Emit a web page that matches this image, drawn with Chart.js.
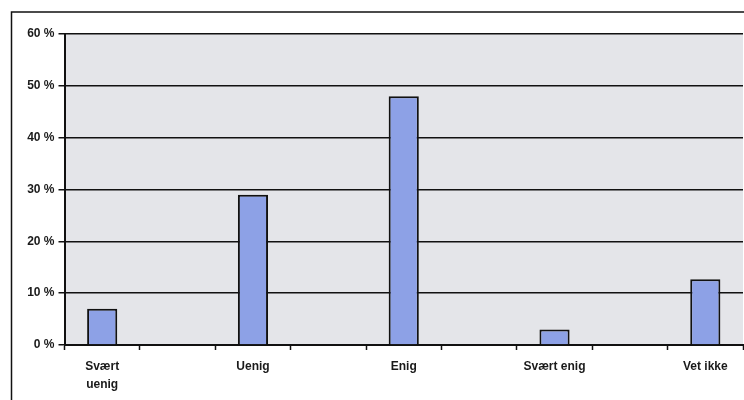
<!DOCTYPE html>
<html>
<head>
<meta charset="utf-8">
<script src="https://cdn.jsdelivr.net/npm/chart.js@4/dist/chart.umd.min.js"></script>
<style>
  html, body { margin: 0; padding: 0; background: #ffffff; }
  #wrap { position: relative; width: 744px; height: 400px; overflow: hidden; }
  canvas { display: block; }
</style>
</head>
<body>
<div id="wrap"><canvas id="c" width="744" height="400"></canvas></div>
<script>
// Categories (empty slots between labelled answers, as in the original)
const categories = [["Svært", "uenig"], "", "Uenig", "", "Enig", "", "Svært enig", "", "Vet ikke"];
// Share of answers, percent
const shares = [7, null, 29, null, 48, null, 3, null, 12.7];
// Y-axis ticks
const yTicks = [0, 10, 20, 30, 40, 50, 60];

const frame = {
  id: 'frame',
  beforeDraw(chart) {
    const ctx = chart.ctx, a = chart.chartArea;
    ctx.save();
    ctx.fillStyle = '#ffffff';
    ctx.fillRect(0, 0, chart.width, chart.height);
    ctx.fillStyle = '#e4e5e9';
    ctx.fillRect(a.left, a.top, a.right - a.left, a.bottom - a.top);
    ctx.strokeStyle = '#111111';
    ctx.lineWidth = 1.5;
    ctx.strokeRect(11.5, 12, 900, 600);
    ctx.restore();
  }
};

new Chart(document.getElementById('c'), {
  type: 'bar',
  data: {
    labels: categories,
    datasets: [{
      data: shares,
      backgroundColor: '#8da1e6',
      borderColor: '#111111',
      borderWidth: 2,
      borderSkipped: 'bottom',
      barPercentage: 0.4,
      categoryPercentage: 1.0
    }]
  },
  options: {
    responsive: false,
    animation: false,
    devicePixelRatio: 1,
    layout: { padding: { left: 0, top: 34, right: 1, bottom: 0 } },
    plugins: { legend: { display: false }, tooltip: { enabled: false } },
    scales: {
      x: {
        offset: true,
        grid: { offset: true, drawOnChartArea: false, drawTicks: true, tickLength: 5, tickColor: '#111111', tickWidth: 1.5 },
        border: { display: true, color: '#111111', width: 2 },
        ticks: {
          color: '#1a1a1a',
          padding: 8,
          maxRotation: 0,
          autoSkip: false,
          font: { family: '"Liberation Sans", Arial, sans-serif', size: 12, weight: 'bold', lineHeight: 1.5 }
        },
        afterFit(s) { s.height = 55; }
      },
      y: {
        min: 0, max: 60,
        afterBuildTicks(s) { s.ticks = yTicks.map(v => ({ value: v })); },
        grid: { color: '#111111', lineWidth: 1.5, tickLength: 6, tickColor: '#111111', tickWidth: 1.5 },
        border: { display: true, color: '#111111', width: 2 },
        ticks: {
          color: '#1a1a1a',
          padding: 4,
          callback: v => v + ' %',
          font: { family: '"Liberation Sans", Arial, sans-serif', size: 12, weight: 'bold' }
        },
        afterFit(s) { s.width = 64.5; }
      }
    }
  },
  plugins: [frame]
});
</script>
</body>
</html>
